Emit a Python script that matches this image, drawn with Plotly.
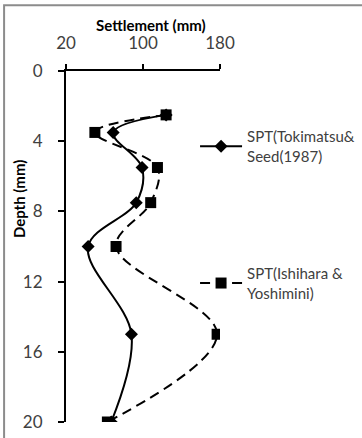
import plotly.graph_objects as go

# Settlement profiles from SPT-based methods
depth = [2.5, 3.5, 5.5, 7.5, 10, 15, 20]
settle_tokimatsu = [124, 69, 99, 93, 43, 88, 67]
settle_ishihara = [124, 50, 115, 108, 72, 177, 63]

x_ticks = [20, 100, 180]
y_ticks = [0, 4, 8, 12, 16, 20]

name_tokimatsu = "SPT(Tokimatsu&<br>Seed(1987)"
name_ishihara = "SPT(Ishihara &<br>Yoshimini)"

FONT = "Lato, 'Open Sans', sans-serif"
TXT = "#404040"

fig = go.Figure()

fig.add_trace(go.Scatter(
    x=settle_tokimatsu, y=depth, name=name_tokimatsu,
    mode="lines+markers",
    line=dict(color="black", width=2, shape="spline", smoothing=1.0),
    marker=dict(symbol="diamond", size=10, color="black"),
    legend="legend", showlegend=True,
))

fig.add_trace(go.Scatter(
    x=settle_ishihara, y=depth, name=name_ishihara,
    mode="lines+markers",
    line=dict(color="black", width=2, dash="10px,6px", shape="spline", smoothing=1.0),
    marker=dict(symbol="square", size=11, color="black"),
    legend="legend2", showlegend=True,
))

legend_style = dict(
    xanchor="left", yanchor="top", itemwidth=42,
    bgcolor="rgba(0,0,0,0)", font=dict(family=FONT, size=15, color=TXT),
)

fig.update_layout(
    width=362, height=438,
    margin=dict(l=66, r=142, t=71, b=16, autoexpand=False),
    paper_bgcolor="white", plot_bgcolor="white",
    font=dict(family=FONT, size=14, color=TXT),
    showlegend=True,
    xaxis=dict(
        side="top", range=[20, 180], tickvals=x_ticks,
        showgrid=False, zeroline=False,
        showline=True, linecolor="black", linewidth=2,
        ticks="outside", ticklen=5, tickwidth=2, tickcolor="black",
        ticklabelstandoff=8,
        tickfont=dict(family=FONT, size=17, color=TXT),
    ),
    yaxis=dict(
        range=[20, 0], tickvals=y_ticks,
        showgrid=False, zeroline=False,
        showline=True, linecolor="black", linewidth=2,
        ticks="outside", ticklen=6, tickwidth=2, tickcolor="black",
        ticklabelstandoff=12,
        tickfont=dict(family=FONT, size=17, color=TXT),
    ),
    legend=dict(x=0.838, y=0.86, **legend_style),
    legend2=dict(x=0.838, y=0.47, **legend_style),
    annotations=[
        dict(text="<b>Settlement (mm)</b>", xref="paper", yref="paper",
             x=0.55, y=1.0, xanchor="center", yanchor="middle", yshift=46,
             showarrow=False, font=dict(family=FONT, size=15, color="black")),
        dict(text="<b>Depth (mm)</b>", xref="paper", yref="paper",
             x=0, y=0.635, xanchor="center", yanchor="middle", xshift=-47,
             textangle=-90, showarrow=False,
             font=dict(family=FONT, size=15, color="black")),
    ],
    shapes=[
        # chart-area frame
        dict(type="rect", xref="paper", yref="paper",
             x0=-0.402, x1=3.0, y0=-0.2, y1=1.187,
             line=dict(color="#8c8c8c", width=2), layer="below"),
    ],
)

fig.write_html("out.html")
